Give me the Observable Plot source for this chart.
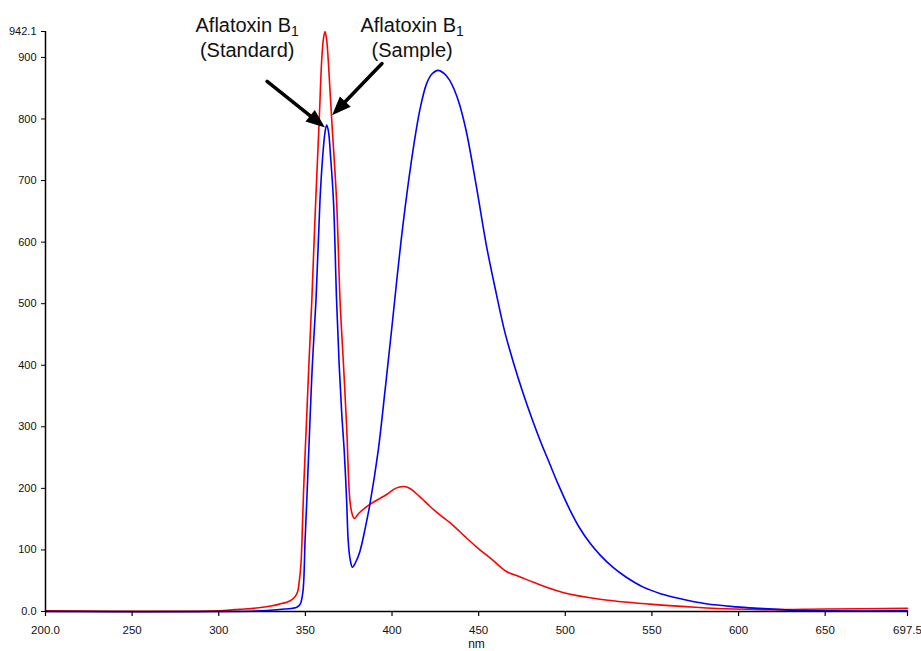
<!DOCTYPE html>
<html><head><meta charset="utf-8">
<script src="https://cdn.jsdelivr.net/npm/d3@7"></script>
<script src="https://cdn.jsdelivr.net/npm/@observablehq/plot@0.6"></script>
<style>
html,body{margin:0;padding:0;background:#fff;}
#chart{width:921px;height:651px;overflow:hidden;}
</style></head><body><div id="chart"></div>
<script>
// Standard (red)
const standardNm = [200,300,309,315,323,330,335,341,344,345.5,346.5,347.5,348.3,349,350.5,352,353.7,355,356.3,358,359.4,360.4,361.3,362.2,363.2,365.2,368,370,372,373.8,375.7,377,378.2,381,387.2,396.9,402,406.4,409.5,412.2,417,421.8,427.6,435.2,442,448.7,458.3,466,473.7,482,498.6,520,548.6,575,597,620,650,697.5];
const standardIntensity = [1,1,3,4,6,9,12,17,24,32,50,80,140,200,300,400,505,600,690,800,895,930,942.1,930,895,798,667,505,400,300,180,158,151,160,174,190,200,203,201,196,184,171,157,140,122,105,83,65,56.5,47,31,20,12,7,4,3,4,5];
// Sample (blue)
const sampleNm = [200,310,324,338,345,347,348.6,349.8,350.8,352.5,354,356.1,358.4,360,361.3,362.3,363.3,364.5,366.2,368,369.5,371,372.4,373.8,374.7,375.8,377.1,379,381.5,384.5,387.2,392,396,399.7,403,406.4,411.2,416,419.9,423,426.6,430,433,436,439,443,448.7,454.5,460.2,465,470,475.6,481.3,486,491,496,502.5,508.2,514,520,527.4,535,544.7,555,565.9,581.2,598.5,612,632,650,697.5];
const sampleIntensity = [0,0,1,4,7,12,33,115,180,300,400,505,667,740,778,790,780,740,667,505,400,320,261,180,115,85,72,80,98,135,174,261,360,456,545,630,732,814,857,873,879,874,864,847,823,778,690,594,516,455,405,355,309,274,240,206,166,136,112,92,72,56,40,29,21,12.5,7.5,5,2,1,1];

const xTicks = [200,250,300,350,400,450,500,550,600,650,697.5];
const xTickLabels = ["200.0","250","300","350","400","450","500","550","600","650","697.5"];
const yTicks = [0,100,200,300,400,500,600,700,800,900,942.1];
const yTickLabels = ["0.0","100","200","300","400","500","600","700","800","900","942.1"];

const labelTexts = ["Aflatoxin B1\n(Standard)","Aflatoxin B1\n(Sample)"];
const labelNm = [316.4, 411.6];
const labelIntensity = [900, 900];

const arrowFromNm = [327.9, 394.2];
const arrowFromIntensity = [861, 890];
const arrowToNm = [361.3, 365.4];
const arrowToIntensity = [786, 806];

const standard = standardNm.map((x,i)=>({x, y: standardIntensity[i]}));
const sample = sampleNm.map((x,i)=>({x, y: sampleIntensity[i]}));
const labels = labelTexts.map((t,i)=>({t, x: labelNm[i], y: labelIntensity[i]}));
const arrows = arrowFromNm.map((x1,i)=>({x1, y1: arrowFromIntensity[i], x2: arrowToNm[i], y2: arrowToIntensity[i]}));

const base = {
  width: 921, height: 651,
  marginLeft: 45, marginRight: 14, marginTop: 31, marginBottom: 40,
  x: {domain: [200, 697.5]},
  y: {domain: [0, 942.1]},
  style: {fontFamily: "Liberation Sans, Arial, sans-serif", background: "#fff", color: "#000", overflow: "visible"}
};

// first pass to obtain the library's pixel scales for arrow-head orientation
const probe = Plot.plot({...base, marks: [Plot.dot(arrows, {x: "x1", y: "y1"})]});
const X = probe.scale("x"), Y = probe.scale("y");

function headSymbol(angle, len, half) {
  const c = Math.cos(angle), s = Math.sin(angle);
  return {draw(ctx) {
    ctx.moveTo(0, 0);
    ctx.lineTo(-len*c + half*s, -len*s - half*c);
    ctx.lineTo(-len*c - half*s, -len*s + half*c);
    ctx.closePath();
  }};
}
const headMarks = arrows.map(a => {
  const ang = Math.atan2(Y.apply(a.y2) - Y.apply(a.y1), X.apply(a.x2) - X.apply(a.x1));
  return Plot.dot([a], {x: "x2", y: "y2", symbol: headSymbol(ang, 19, 7.5), fill: "#000", stroke: "none", r: 6});
});

const plot = Plot.plot({
  ...base,
  marks: [
    Plot.line(standard, {x: "x", y: "y", stroke: "#ff0000", strokeWidth: 1.6, curve: "catmull-rom"}),
    Plot.line(sample, {x: "x", y: "y", stroke: "#0000ff", strokeWidth: 1.6, curve: "catmull-rom"}),
    Plot.ruleX([200], {stroke: "#000", strokeWidth: 1.5}),
    Plot.ruleY([0], {stroke: "#000", strokeWidth: 1.5}),
    Plot.axisY(yTicks, {tickFormat: d => yTickLabels[yTicks.indexOf(d)], tickSize: 4, tickPadding: 5, fontSize: 11, label: null, stroke: "#000", strokeWidth: 1, fill: "#111"}),
    Plot.axisX(xTicks, {tickFormat: d => xTickLabels[xTicks.indexOf(d)], tickSize: 5, tickPadding: 9, fontSize: 11.5, label: null, stroke: "#000", strokeWidth: 1.2, fill: "#111"}),
    Plot.text(["nm"], {frameAnchor: "bottom", dy: 36, lineAnchor: "bottom", fontSize: 12, fill: "#111"}),
    Plot.arrow(arrows, {x1: "x1", y1: "y1", x2: "x2", y2: "y2", headLength: 0, insetEnd: 14, stroke: "#000", strokeWidth: 3.5}),
    ...headMarks,
    Plot.text(labels, {x: "x", y: "y", text: "t", fontSize: 20, lineAnchor: "bottom", lineHeight: 1.25, textAnchor: "middle", fill: "#111"})
  ]
});

// subscript the "1" in "B1"
plot.querySelectorAll("tspan, text").forEach(el => {
  if (el.children.length === 0 && el.textContent === "Aflatoxin B1") {
    el.textContent = "Aflatoxin B";
    const sub = document.createElementNS("http://www.w3.org/2000/svg", "tspan");
    sub.setAttribute("font-size", "14");
    sub.setAttribute("baseline-shift", "-4");
    sub.textContent = "1";
    el.appendChild(sub);
  }
});

document.getElementById("chart").appendChild(plot);
</script></body></html>
